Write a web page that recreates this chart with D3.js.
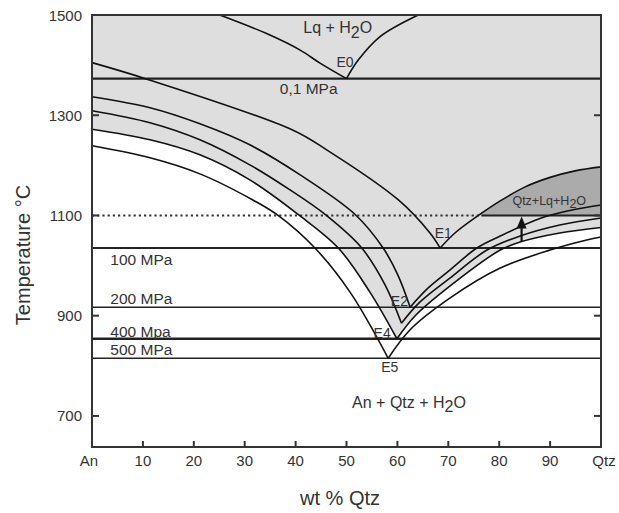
<!DOCTYPE html>
<html><head><meta charset="utf-8">
<script src="https://cdn.jsdelivr.net/npm/d3@7"></script>
<style>body{margin:0;background:#fff}text{font-family:"Liberation Sans",Arial,sans-serif;fill:#333}</style>
</head><body><svg id="c" width="619" height="513"></svg>
<script>
// ---- data ----
const xTicks = [0,10,20,30,40,50,60,70,80,90,100];
const xTickLabels = ["An","10","20","30","40","50","60","70","80","90","Qtz"];
const yTicks = [700,900,1100,1300,1500];
const isobarLabels = ["0,1 MPa","100 MPa","200 MPa","400 Mpa","500 MPa"];
const isobarT = [1373,1035,917,854,815];
const isotherm = [1100, 76.5];           // T, wt% where it becomes solid
const arrowData = [84.4, 1047, 1100];    // wt%, from T, to T

const E0_left  = [[25.1,1500],[34.3,1463],[40.9,1430],[44.8,1404],[50.0,1373]];
const E0_right = [[50.0,1373],[52.3,1410],[56.6,1457],[64.1,1500]];
const E1_left  = [[0,1405],[10.8,1372],[39.3,1271],[46.1,1231],[60.2,1131],[66.4,1065],[68.4,1035]];
const E1_right = [[68.4,1035],[71.3,1065],[76.2,1102],[80.2,1129],[85.1,1157],[90.0,1176],[94.9,1189],[100,1197]];
const E2_left  = [[0,1337],[11.4,1315],[21.2,1283],[31.0,1241],[40.9,1181],[51.7,1102],[57.2,1035],[60.1,981],[62.5,917]];
const E2_right = [[62.5,917],[66.0,955],[70.3,991],[75.6,1035],[80.2,1059],[88.0,1094],[93.9,1110],[100,1121]];
const E3_left  = [[0,1309],[11.4,1285],[21.2,1251],[31.0,1201],[38.9,1151],[45.8,1102],[53.0,1035],[57.6,961],[60.8,885]];
const E3_right = [[60.8,885],[64.4,927],[70.3,975],[77.6,1031],[84.1,1059],[91.9,1081],[100,1095]];
const E4_left  = [[0,1272],[11.4,1251],[21.2,1221],[31.0,1171],[40.5,1102],[48.4,1035],[54.6,947],[59.9,854]];
const E4_right = [[59.9,854],[63.5,900],[70.3,959],[80.2,1031],[84.1,1047],[91.9,1065],[100,1076]];
const E5_left  = [[0,1239],[11.4,1215],[21.2,1183],[31.6,1131],[36.3,1102],[43.8,1035],[50.7,947],[58.2,815]];
const E5_right = [[58.2,815],[62.5,872],[70.3,935],[80.2,995],[90.0,1031],[97.2,1051],[100,1057]];

// ---- drawing ----
const svg = d3.select("#c");
const x = d3.scaleLinear([0,100],[92,601]);
const y = d3.scaleLinear([638,1500],[447,15]);
const curve = d3.curveCatmullRom.alpha(0.5);
const line = d3.line().x(d=>x(d[0])).y(d=>y(d[1])).curve(curve);

// light grey liquid field (above 400 MPa liquidus)
const gPath = `M${x(0)},${y(1500)}L` + line(E4_left).slice(1) + "L" + line(E4_right).slice(1) + `L${x(100)},${y(1500)}Z`;
svg.append("path").attr("d", gPath).attr("fill","#dedede");

// dark Qtz+Lq+H2O field
svg.append("clipPath").attr("id","cl").append("rect")
  .attr("x",x(0)).attr("y",y(1500)).attr("width",x(100)-x(0)).attr("height",y(isotherm[0])-y(1500));
svg.append("path").datum(E1_right)
  .attr("d", d3.area().x(d=>x(d[0])).y0(y(isotherm[0])).y1(d=>y(d[1])).curve(curve))
  .attr("fill","#ababab").attr("clip-path","url(#cl)");

// isobars
const isoW = [2.4,2,1.6,2.4,1.6];
isobarT.forEach((T,i)=>{
  svg.append("line").attr("x1",x(0)).attr("x2",x(100)).attr("y1",y(T)).attr("y2",y(T))
    .attr("stroke","#222").attr("stroke-width",isoW[i]);
});
// 1100 isotherm
svg.append("line").attr("x1",x(0)).attr("x2",x(isotherm[1])).attr("y1",y(isotherm[0])).attr("y2",y(isotherm[0]))
  .attr("stroke","#333").attr("stroke-width",2).attr("stroke-dasharray","2.2,3");
svg.append("line").attr("x1",x(isotherm[1])).attr("x2",x(100)).attr("y1",y(isotherm[0])).attr("y2",y(isotherm[0]))
  .attr("stroke","#222").attr("stroke-width",2);

// liquidus curves
[E0_left,E0_right,E1_left,E1_right,E2_left,E2_right,E3_left,E3_right,E4_left,E4_right,E5_left,E5_right].forEach(c=>{
  svg.append("path").attr("d",line(c)).attr("fill","none").attr("stroke","#111").attr("stroke-width",1.6);
});

// frame
svg.append("rect").attr("x",x(0)).attr("y",y(1500)).attr("width",x(100)-x(0)).attr("height",y(638)-y(1500))
  .attr("fill","none").attr("stroke","#333").attr("stroke-width",2);

// ticks
xTicks.slice(1,-1).forEach(t=>{
  svg.append("line").attr("x1",x(t)).attr("x2",x(t)).attr("y1",y(638)).attr("y2",y(638)-6).attr("stroke","#333").attr("stroke-width",2);
});
yTicks.forEach(t=>{
  svg.append("line").attr("x1",x(0)).attr("x2",x(0)+7).attr("y1",y(t)).attr("y2",y(t)).attr("stroke","#333").attr("stroke-width",2);
  svg.append("line").attr("x1",x(100)).attr("x2",x(100)-7).attr("y1",y(t)).attr("y2",y(t)).attr("stroke","#333").attr("stroke-width",2);
  svg.append("text").attr("x",x(0)-10).attr("y",y(t)+5.5).attr("text-anchor","end").attr("font-size",15).text(t);
});
xTicks.forEach((t,i)=>{
  svg.append("text").attr("x",x(t)+(i===0?-3:(i===10?3:0))).attr("y",466).attr("text-anchor","middle").attr("font-size",15).text(xTickLabels[i]);
});

// axis titles
svg.append("text").attr("x",340).attr("y",505).attr("text-anchor","middle").attr("font-size",20).text("wt % Qtz");
svg.append("text").attr("transform","translate(30,255) rotate(-90)").attr("text-anchor","middle").attr("font-size",20).text("Temperature °C");

// isobar labels
const lab = (txt,xx,yy,fs,anchor)=>svg.append("text").attr("x",xx).attr("y",yy).attr("font-size",fs).attr("text-anchor",anchor||"start").text(txt);
lab(isobarLabels[0], x(36.9), y(isobarT[0])+15, 15.5);
lab(isobarLabels[1], x(3.6), y(isobarT[1])+17, 15.5);
lab(isobarLabels[2], x(3.6), y(isobarT[2])-3, 15.5);
lab(isobarLabels[3], x(3.6), y(isobarT[3])-2, 15.5);
lab(isobarLabels[4], x(3.6), y(isobarT[4])-3, 15.5);

// eutectic labels
lab("E0", x(49.7), y(1396), 14, "middle");
lab("E1", x(69.0), 238, 14, "middle");
lab("E2", x(60.4), y(917)-1, 14, "middle");
lab("E4", x(57.0), y(854)-1, 14, "middle");
lab("E5", x(58.5), y(815)+14, 14, "middle");

// field labels with subscripts
function h2o(txt, xx, yy, fs, anchor){
  const t = svg.append("text").attr("x",xx).attr("y",yy).attr("font-size",fs).attr("text-anchor",anchor||"start");
  t.append("tspan").text(txt);
  t.append("tspan").attr("dy",fs*0.28).text("2");
  t.append("tspan").attr("dy",-fs*0.28).text("O");
}
h2o("Lq + H", x(41.5), y(1464), 16);
h2o("Qtz+Lq+H", x(82.6), y(1121), 12.5);
h2o("An + Qtz + H", x(51.1), y(716), 16);

// arrow
const ax = x(arrowData[0]);
svg.append("line").attr("x1",ax).attr("x2",ax).attr("y1",y(arrowData[1])).attr("y2",y(arrowData[2])+10).attr("stroke","#111").attr("stroke-width",2.2);
svg.append("path").attr("d",`M${ax},${y(arrowData[2])+1}L${ax-5},${y(arrowData[2])+13}L${ax+5},${y(arrowData[2])+13}Z`).attr("fill","#111");
</script></body></html>
